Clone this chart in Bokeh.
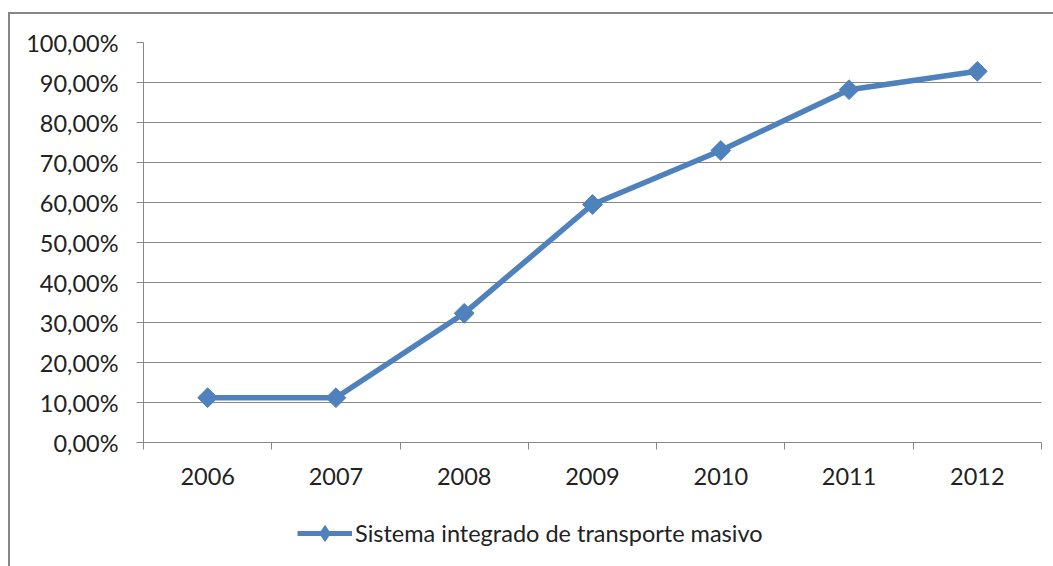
from bokeh.plotting import figure
from bokeh.layouts import column
from bokeh.models import FixedTicker, Range1d, Legend, LegendItem, InlineStyleSheet
from bokeh.embed import file_html
from bokeh.resources import INLINE
import numpy as np

# ---- data ----
years = ["2006", "2007", "2008", "2009", "2010", "2011", "2012"]
values = [11.2, 11.2, 32.3, 59.5, 73.0, 88.2, 92.8]
y_ticks = [0, 10, 20, 30, 40, 50, 60, 70, 80, 90, 100]
y_tick_labels = ["0,00%", "10,00%", "20,00%", "30,00%", "40,00%", "50,00%",
                 "60,00%", "70,00%", "80,00%", "90,00%", "100,00%"]
series_name = "Sistema integrado de transporte masivo"

FONT = "Lato"
TXT = "#222222"
GRAY = "#878787"
BLUE = "#4F81BD"
FS = "23.5px"

xs = [i + 0.5 for i in range(len(years))]

p = figure(width=1045, height=500, output_backend="svg", toolbar_location=None,
           x_range=Range1d(0, len(years)), y_range=Range1d(0, 100),
           min_border_left=143, min_border_right=4, min_border_top=42, min_border_bottom=58)
p.outline_line_color = None
p.background_fill_color = "white"
p.border_fill_color = "white"

# y axis
p.yaxis.ticker = FixedTicker(ticks=y_ticks)
p.yaxis.major_label_overrides = {t: l for t, l in zip(y_ticks, y_tick_labels)}
p.yaxis.axis_line_color = GRAY
p.yaxis.major_tick_line_color = GRAY
p.yaxis.major_tick_out = 7
p.yaxis.major_tick_in = 0
p.yaxis.minor_tick_line_color = None
p.yaxis.major_label_standoff = 18
p.yaxis.major_label_text_font = FONT
p.yaxis.major_label_text_font_size = FS
p.yaxis.major_label_text_color = TXT

# x axis
p.xaxis.ticker = FixedTicker(ticks=xs, minor_ticks=list(range(len(years) + 1)))
p.xaxis.major_label_overrides = {x: y for x, y in zip(xs, years)}
p.xaxis.axis_line_color = GRAY
p.xaxis.major_tick_line_color = None
p.xaxis.major_tick_out = 0
p.xaxis.major_tick_in = 0
p.xaxis.minor_tick_line_color = GRAY
p.xaxis.minor_tick_out = 7
p.xaxis.minor_tick_in = 0
p.xaxis.major_label_standoff = 18
p.xaxis.major_label_text_font = FONT
p.xaxis.major_label_text_font_size = FS
p.xaxis.major_label_text_color = TXT

p.xgrid.grid_line_color = None
p.ygrid.ticker = FixedTicker(ticks=y_ticks)
p.ygrid.grid_line_color = GRAY
p.ygrid.grid_line_width = 1

p.line(xs, values, line_color=BLUE, line_width=5.5)
p.scatter(xs, values, marker="square", angle=np.pi / 4, size=14,
          fill_color=BLUE, line_color=BLUE)

# legend strip below the plot (hidden copies of the series feed the legend glyph)
p2 = figure(width=1045, height=58, output_backend="svg", toolbar_location=None,
            x_axis_location=None, y_axis_location=None,
            min_border_left=0, min_border_right=0, min_border_top=0, min_border_bottom=0)
p2.grid.visible = False
p2.outline_line_color = None
p2.background_fill_alpha = 0
p2.border_fill_alpha = 0
lg_line = p2.line(xs, values, line_color=BLUE, line_width=5, visible=False)
lg_mark = p2.scatter(xs, values, marker="diamond", size=16, fill_color=BLUE,
                     line_color=BLUE, visible=False)
legend = Legend(items=[LegendItem(label=series_name, renderers=[lg_line, lg_mark])],
                location=(154, 5), orientation="horizontal", click_policy="none",
                glyph_width=55, glyph_height=40, label_height=26,
                label_standoff=3, padding=0, margin=0, spacing=0,
                border_line_color=None, background_fill_alpha=0,
                label_text_font=FONT, label_text_font_size=FS,
                label_text_color=TXT)
p2.add_layout(legend, "center")

layout = column(p, p2, spacing=0)
# outer chart border (left and top edges)
layout.stylesheets = [InlineStyleSheet(css="""
:host::after { content: ""; position: absolute; left: 8px; top: 12px; width: 2000px; height: 2000px;
  border-left: 2px solid #878787; border-top: 2px solid #878787; pointer-events: none; }
""")]

open("out.html", "w").write(file_html(layout, INLINE))
